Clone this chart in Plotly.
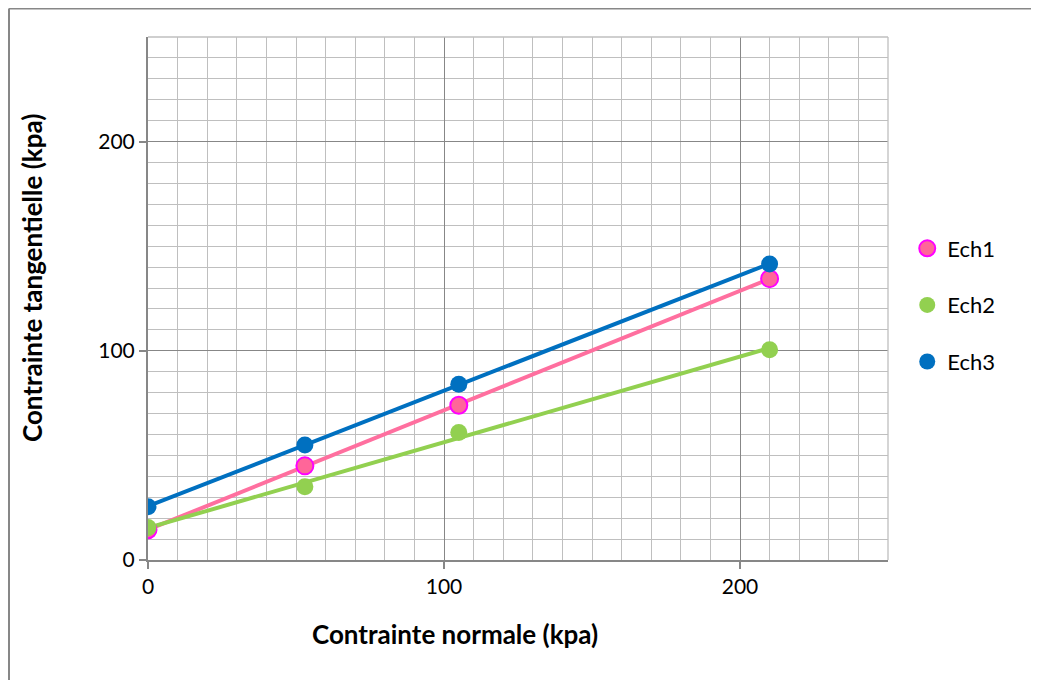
import numpy as np
import plotly.graph_objects as go

x_vals = [0, 53, 105, 210]
ech1 = [14.5, 45, 74, 134.5]
ech2 = [15.5, 35, 61, 100.5]
ech3 = [25.5, 55, 84, 141.5]
names = ["Ech1", "Ech2", "Ech3"]
line_colors = ["#FF6F9F", "#92D050", "#0070C0"]
fill_colors = ["#FF6699", "#92D050", "#0070C0"]
edge_colors = ["#FF00FF", "#92D050", "#0070C0"]

fig = go.Figure()
for i, ys in enumerate([ech1, ech2, ech3]):
    slope, icpt = np.polyfit(x_vals, ys, 1)
    xs = [min(x_vals), max(x_vals)]
    fig.add_trace(go.Scatter(x=xs, y=[icpt + slope * v for v in xs], mode="lines",
                             line=dict(color=line_colors[i], width=4), showlegend=False,
                             hoverinfo="skip"))
for i, ys in enumerate([ech1, ech2, ech3]):
    fig.add_trace(go.Scatter(x=x_vals, y=ys, mode="markers", name=names[i],
                             legendgroup=names[i],
                             marker=dict(size=17, color=fill_colors[i],
                                         line=dict(color=edge_colors[i], width=2 if i == 0 else 0))))

axis_common = dict(range=[0, 250], dtick=100, showgrid=True, gridcolor="#878787", gridwidth=1.3,
                   minor=dict(dtick=10, showgrid=True, gridcolor="#BFBFBF", gridwidth=1.3),
                   showline=True, linecolor="#878787", linewidth=2, ticks="outside",
                   ticklen=7, tickcolor="#878787", tickwidth=2, zeroline=False,
                   tickfont=dict(family="Lato", size=21, color="#000000"))
fig.update_xaxes(**axis_common)
fig.update_yaxes(**axis_common)

fig.update_layout(
    width=1039, height=680,
    margin=dict(l=140, r=159, t=29, b=128),
    paper_bgcolor="white", plot_bgcolor="white",
    showlegend=True,
    legend=dict(x=1.026, y=(560 - 305) / 523, xanchor="left", yanchor="middle", tracegroupgap=25,
                font=dict(family="Lato", size=22, color="#000000"), itemsizing="trace"),
    annotations=[
        dict(text="<b>Contrainte normale (kpa)</b>", xref="paper", yref="paper",
             x=(455 - 148) / 740, y=(560 - 634) / 523, xanchor="center", yanchor="middle",
             showarrow=False, font=dict(family="Lato", size=26, color="#000000")),
        dict(text="<b>Contrainte tangentielle (kpa)</b>", xref="paper", yref="paper",
             x=(32 - 148) / 740, y=(560 - 278) / 523, xanchor="center", yanchor="middle",
             textangle=-90, showarrow=False, font=dict(family="Lato", size=26, color="#000000")),
    ],
    shapes=[
        dict(type="line", xref="paper", yref="paper",
             x0=(9 - 148) / 740, x1=(1040 - 148) / 740, y0=(560 - 8.5) / 523, y1=(560 - 8.5) / 523,
             line=dict(color="#878787", width=2), layer="below"),
        dict(type="line", xref="paper", yref="paper",
             x0=(9 - 148) / 740, x1=(9 - 148) / 740, y0=(560 - 8.5) / 523, y1=(560 - 690) / 523,
             line=dict(color="#878787", width=2), layer="below"),
        dict(type="line", xref="paper", yref="paper", x0=0, x1=1, y0=1, y1=1,
             line=dict(color="#BFBFBF", width=1.3)),
        dict(type="line", xref="paper", yref="paper", x0=1, x1=1, y0=0, y1=1,
             line=dict(color="#BFBFBF", width=1.3)),
    ],
)
fig.write_html("out.html")
